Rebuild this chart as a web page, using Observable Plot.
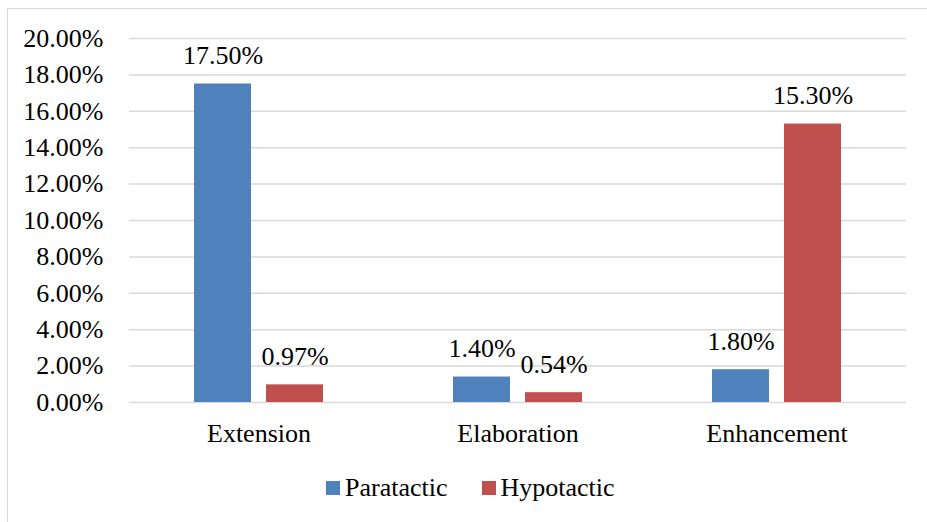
<!DOCTYPE html>
<html>
<head>
<meta charset="utf-8">
<script src="https://cdn.jsdelivr.net/npm/d3@7"></script>
<script src="https://cdn.jsdelivr.net/npm/@observablehq/plot@0.6"></script>
<style>
  body { margin: 0; background: #fff; font-family: "Liberation Serif", "Times New Roman", serif; }
  #frame { position: absolute; left: 7px; top: 8px; width: 940px; height: 540px; border: 1.5px solid #d9d9d9; }
  #chart { position: absolute; left: 0; top: 0; }
  #legend { position: absolute; top: 473px; left: 326px; display: flex; align-items: center; font-size: 26px; color: #000; white-space: nowrap; }
  .item { display: flex; align-items: center; margin-right: 34px; }
  .swatch { width: 14px; height: 14px; margin-right: 5px; }
</style>
</head>
<body>
<div id="frame"></div>
<div id="chart"></div>
<div id="legend"></div>
<script>
// Clause types and the share of each taxis type
const categories = ["Extension", "Elaboration", "Enhancement"];
const series = ["Paratactic", "Hypotactic"];
const paratactic = [17.5, 1.4, 1.8];
const hypotactic = [0.97, 0.54, 15.3];
const yTicks = [0, 2, 4, 6, 8, 10, 12, 14, 16, 18, 20];
const colors = ["#4F81BD", "#C0504D"];

const rows = [];
categories.forEach((c, i) => {
  rows.push({ category: c, series: series[0], value: paratactic[i] });
  rows.push({ category: c, series: series[1], value: hypotactic[i] });
});

const pct = d => d.toFixed(2) + "%";

const chart = Plot.plot({
  width: 927,
  height: 460,
  marginLeft: 129,
  marginRight: 21,
  marginTop: 38,
  marginBottom: 58,
  style: { fontFamily: "'Liberation Serif', 'Times New Roman', serif", fontSize: "26px", color: "#000", background: "transparent", overflow: "visible" },
  fx: { domain: categories, padding: 0, label: null, axis: "bottom", tickSize: 0, tickPadding: 21 },
  x: { domain: series, axis: null, paddingInner: 0.205, paddingOuter: 0.877 },
  y: { domain: [0, 20], ticks: yTicks, tickFormat: pct, tickSize: 0, tickPadding: 26, label: null },
  color: { domain: series, range: colors },
  marks: [
    Plot.gridY(yTicks, { stroke: "#d9d9d9", strokeOpacity: 1, strokeWidth: 1.5 }),
    Plot.barY(rows, { fx: "category", x: "series", y: "value", fill: "series" }),
    Plot.text(rows, { fx: "category", x: "series", y: "value", text: d => pct(d.value), dy: -28, fill: "#000" })
  ]
});
document.getElementById("chart").appendChild(chart);

const legend = document.getElementById("legend");
series.forEach((s, i) => {
  const item = document.createElement("div");
  item.className = "item";
  const sw = document.createElement("div");
  sw.className = "swatch";
  sw.style.background = colors[i];
  const label = document.createElement("span");
  label.textContent = s;
  item.appendChild(sw);
  item.appendChild(label);
  legend.appendChild(item);
});
</script>
</body>
</html>
